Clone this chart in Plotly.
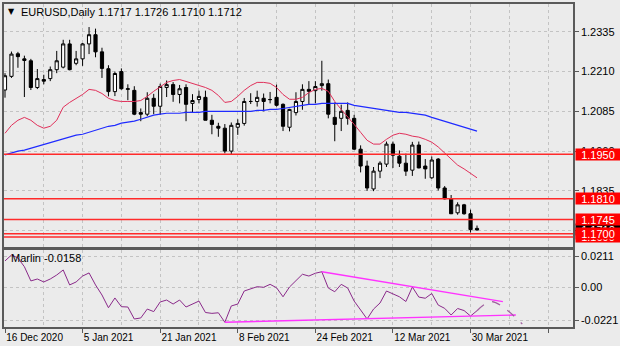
import plotly.graph_objects as go

# ---- EURUSD daily bars, 16 Dec 2020 .. 31 Mar 2021 ----
bar_dates = [
    "2020-12-16", "2020-12-17", "2020-12-18", "2020-12-21", "2020-12-22", "2020-12-23",
    "2020-12-24", "2020-12-28", "2020-12-29", "2020-12-30", "2020-12-31", "2021-01-04",
    "2021-01-05", "2021-01-06", "2021-01-07", "2021-01-08", "2021-01-11", "2021-01-12",
    "2021-01-13", "2021-01-14", "2021-01-15", "2021-01-18", "2021-01-19", "2021-01-20",
    "2021-01-21", "2021-01-22", "2021-01-25", "2021-01-26", "2021-01-27", "2021-01-28",
    "2021-01-29", "2021-02-01", "2021-02-02", "2021-02-03", "2021-02-04", "2021-02-05",
    "2021-02-08", "2021-02-09", "2021-02-10", "2021-02-11", "2021-02-12", "2021-02-15",
    "2021-02-16", "2021-02-17", "2021-02-18", "2021-02-19", "2021-02-22", "2021-02-23",
    "2021-02-24", "2021-02-25", "2021-02-26", "2021-03-01", "2021-03-02", "2021-03-03",
    "2021-03-04", "2021-03-05", "2021-03-08", "2021-03-09", "2021-03-10", "2021-03-11",
    "2021-03-12", "2021-03-15", "2021-03-16", "2021-03-17", "2021-03-18", "2021-03-19",
    "2021-03-22", "2021-03-23", "2021-03-24", "2021-03-25", "2021-03-26", "2021-03-29",
    "2021-03-30", "2021-03-31",
]
opens = [
    1.2152, 1.2195, 1.2266, 1.2250, 1.2244, 1.2160, 1.2185, 1.2188, 1.2216, 1.2224,
    1.2297, 1.2236, 1.2250, 1.2297, 1.2326, 1.2272, 1.2219, 1.2147, 1.2210, 1.2154,
    1.2151, 1.2081, 1.2076, 1.2126, 1.2101, 1.2160, 1.2169, 1.2138, 1.2160, 1.2110,
    1.2122, 1.2129, 1.2057, 1.2038, 1.2032, 1.1960, 1.2035, 1.2047, 1.2116, 1.2116,
    1.2126, 1.2122, 1.2129, 1.2107, 1.2035, 1.2081, 1.2116, 1.2154, 1.2150, 1.2166,
    1.2172, 1.2066, 1.2063, 1.2088, 1.2063, 1.1966, 1.1913, 1.1841, 1.1897, 1.1919,
    1.1982, 1.1944, 1.1922, 1.1900, 1.1979, 1.1913, 1.1876, 1.1935, 1.1844, 1.1810,
    1.1766, 1.1791, 1.1763, 1.1717,
]
highs = [
    1.2205, 1.2273, 1.2272, 1.2260, 1.2250, 1.2218, 1.2200, 1.2226, 1.2275, 1.2310,
    1.2310, 1.2275, 1.2300, 1.2350, 1.2345, 1.2285, 1.2230, 1.2210, 1.2220, 1.2170,
    1.2164, 1.2094, 1.2145, 1.2140, 1.2172, 1.2182, 1.2177, 1.2168, 1.2170, 1.2139,
    1.2150, 1.2150, 1.2074, 1.2049, 1.2045, 1.2050, 1.2060, 1.2127, 1.2142, 1.2150,
    1.2141, 1.2146, 1.2169, 1.2110, 1.2093, 1.2145, 1.2170, 1.2180, 1.2180, 1.2244,
    1.2185, 1.2113, 1.2106, 1.2113, 1.2074, 1.1978, 1.1930, 1.1910, 1.1928, 1.1990,
    1.1990, 1.1962, 1.1952, 1.1989, 1.1990, 1.1935, 1.1943, 1.1938, 1.1850, 1.1822,
    1.1799, 1.1794, 1.1776, 1.1726,
]
lows = [
    1.2128, 1.2190, 1.2222, 1.2130, 1.2152, 1.2155, 1.2170, 1.2180, 1.2205, 1.2220,
    1.2214, 1.2230, 1.2228, 1.2265, 1.2255, 1.2190, 1.2132, 1.2133, 1.2153, 1.2120,
    1.2073, 1.2054, 1.2070, 1.2076, 1.2075, 1.2130, 1.2115, 1.2110, 1.2054, 1.2080,
    1.2110, 1.2057, 1.2013, 1.2005, 1.1953, 1.1951, 1.2011, 1.2040, 1.2108, 1.2100,
    1.2085, 1.2110, 1.2100, 1.2023, 1.2022, 1.2072, 1.2090, 1.2106, 1.2110, 1.2150,
    1.2063, 1.1991, 1.2023, 1.2043, 1.1964, 1.1893, 1.1835, 1.1834, 1.1875, 1.1910,
    1.1907, 1.1910, 1.1882, 1.1882, 1.1906, 1.1873, 1.1873, 1.1836, 1.1808, 1.1762,
    1.1760, 1.1760, 1.1704, 1.1710,
]
closes = [
    1.2197, 1.2265, 1.2257, 1.2245, 1.2160, 1.2188, 1.2180, 1.2216, 1.2244, 1.2297,
    1.2216, 1.2250, 1.2297, 1.2326, 1.2272, 1.2220, 1.2147, 1.2204, 1.2156, 1.2156,
    1.2076, 1.2076, 1.2126, 1.2101, 1.2163, 1.2169, 1.2138, 1.2156, 1.2107, 1.2119,
    1.2132, 1.2057, 1.2044, 1.2032, 1.1960, 1.2041, 1.2047, 1.2116, 1.2116, 1.2129,
    1.2116, 1.2122, 1.2104, 1.2038, 1.2091, 1.2116, 1.2154, 1.2148, 1.2163, 1.2172,
    1.2076, 1.2044, 1.2085, 1.2063, 1.1966, 1.1913, 1.1844, 1.1897, 1.1922, 1.1982,
    1.1947, 1.1922, 1.1897, 1.1979, 1.1907, 1.1904, 1.1932, 1.1844, 1.1810, 1.1763,
    1.1791, 1.1763, 1.1713, 1.1712,
]

# moving averages (fast red, slow blue)
ma_fast = [
    1.2016, 1.2041, 1.2057, 1.2066, 1.2057, 1.2041, 1.2032, 1.2038, 1.2057, 1.2098,
    1.2113, 1.2126, 1.2138, 1.2154, 1.2151, 1.2141, 1.2126, 1.2119, 1.2116, 1.2116,
    1.2116, 1.2119, 1.2132, 1.2148, 1.2163, 1.2176, 1.2182, 1.2185, 1.2179, 1.2173,
    1.2166, 1.2160, 1.2151, 1.2135, 1.2113, 1.2116, 1.2132, 1.2151, 1.2166, 1.2176,
    1.2176, 1.2173, 1.2160, 1.2138, 1.2123, 1.2123, 1.2129, 1.2144, 1.2154, 1.2157,
    1.2148, 1.2116, 1.2091, 1.2069, 1.2044, 1.2019, 1.1994, 1.1982, 1.1982, 1.1997,
    1.2010, 1.2016, 1.2013, 1.2007, 1.2004, 1.1997, 1.1988, 1.1973, 1.1954, 1.1935,
    1.1916, 1.1904, 1.1891, 1.1876,
]
ma_slow = [
    1.1948, 1.1954, 1.1960, 1.1963, 1.1969, 1.1973, 1.1979, 1.1985, 1.1991, 1.1998,
    1.2004, 1.2010, 1.2013, 1.2019, 1.2026, 1.2032, 1.2038, 1.2041, 1.2048, 1.2051,
    1.2054, 1.2060, 1.2066, 1.2073, 1.2076, 1.2079, 1.2079, 1.2079, 1.2082, 1.2082,
    1.2082, 1.2085, 1.2085, 1.2085, 1.2085, 1.2085, 1.2085, 1.2085, 1.2085, 1.2088,
    1.2088, 1.2091, 1.2091, 1.2094, 1.2098, 1.2101, 1.2104, 1.2107, 1.2107, 1.2110,
    1.2110, 1.2110, 1.2110, 1.2110, 1.2104, 1.2101, 1.2098, 1.2094, 1.2091, 1.2088,
    1.2085, 1.2082, 1.2082, 1.2079, 1.2076, 1.2073, 1.2066, 1.2060, 1.2054, 1.2048,
    1.2041, 1.2035, 1.2029, 1.2023,
]

# Marlin oscillator
marlin = [
    0.0178, 0.0218, 0.0198, 0.0139, 0.0043, 0.0056, 0.0036, 0.0056, 0.0083, 0.0117,
    0.0016, 0.0036, 0.0076, 0.0097, 0.0016, -0.0052, -0.0138, -0.0072, -0.0131, -0.0133,
    -0.0214, -0.0207, -0.0147, -0.0164, -0.0099, -0.0086, -0.0113, -0.0086, -0.0133, -0.0113,
    -0.0093, -0.0170, -0.0176, -0.0172, -0.0236, -0.0126, -0.0113, -0.0025, -0.0011, 0.0004,
    0.0000, 0.0020, -0.0003, -0.0064, 0.0002, 0.0043, 0.0088, 0.0076, 0.0095, 0.0105,
    -0.0005, -0.0030, 0.0020, -0.0005, -0.0093, -0.0153, -0.0214, -0.0147, -0.0106, -0.0025,
    -0.0045, -0.0064, -0.0096, 0.0002, -0.0066, -0.0074, -0.0042, -0.0120, -0.0142, -0.0187,
    -0.0143, -0.0157, -0.0194, -0.0158,
]

# trend lines on the oscillator: (bar, value) end points
marlin_upper = [(49.0, 0.0105), (77.0, -0.0097)]
marlin_lower = [(34.0, -0.0236), (79.0, -0.0187)]
marlin_forecast = [(73.0, -0.0158), (75.3, -0.0097), (80.0, -0.0248)]

# horizontal price levels
levels = [1.1950, 1.1810, 1.1745, 1.1700, 1.1690]
last_price = 1.1712

price_ticks = [1.2335, 1.2210, 1.2085, 1.1960, 1.1835, 1.1710]
price_tick_text = ["1.2335", "1.2210", "1.2085", "1.1960", "1.1835", ""]
marlin_ticks = [0.0211, 0.0, -0.0221]
marlin_tick_text = ["0.0211", "0.00", "-0.0221"]
date_tick_bars = [0, 12, 24, 36, 48, 60, 72]
date_tick_text = ["16 Dec 2020", "5 Jan 2021", "21 Jan 2021", "8 Feb 2021",
                  "24 Feb 2021", "12 Mar 2021", "30 Mar 2021"]

BG = "#ebebeb"
GRID = "#c3c3c3"
FRAME = "#5a5a5a"
FONT = "Liberation Sans"

bars = list(range(len(bar_dates)))

fig = go.Figure()

fig.add_trace(go.Candlestick(
    x=bars, open=opens, high=highs, low=lows, close=closes,
    increasing=dict(line=dict(color="black", width=1), fillcolor="white"),
    decreasing=dict(line=dict(color="black", width=1), fillcolor="black"),
    whiskerwidth=0, xaxis="x", yaxis="y", hoverinfo="skip",
))
fig.add_trace(go.Scatter(x=bars, y=ma_fast, mode="lines",
                         line=dict(color="#e0305a", width=1), xaxis="x", yaxis="y"))
fig.add_trace(go.Scatter(x=bars, y=ma_slow, mode="lines",
                         line=dict(color="#1f2bff", width=1.2), xaxis="x", yaxis="y"))

# oscillator panel
fig.add_trace(go.Scatter(x=bars, y=marlin, mode="lines",
                         line=dict(color="#8a2a8a", width=1), xaxis="x2", yaxis="y2"))
for seg in (marlin_upper, marlin_lower):
    fig.add_trace(go.Scatter(x=[p[0] for p in seg], y=[p[1] for p in seg], mode="lines",
                             line=dict(color="#ff33ff", width=1.4), xaxis="x2", yaxis="y2"))
fig.add_trace(go.Scatter(x=[p[0] for p in marlin_forecast], y=[p[1] for p in marlin_forecast],
                         mode="lines", line=dict(color="#a0609f", width=1.2, dash="dash", shape="spline"),
                         xaxis="x2", yaxis="y2"))

shapes = []
for lv in levels:
    shapes.append(dict(type="line", xref="x domain", x0=0, x1=1, yref="y", y0=lv, y1=lv,
                       line=dict(color="#ff2a2a", width=1.5)))

annotations = []
# current price tag, then the level tags on top of it
tags = [(last_price, "black")] + [(lv, "#ff0000") for lv in [1.1690, 1.1950, 1.1810, 1.1745, 1.1700]]
for val, col in tags:
    annotations.append(dict(xref="paper", x=1, xanchor="left", xshift=2,
                            yref="y", y=val, yanchor="middle",
                            text=f"{val:.4f}", showarrow=False, bgcolor=col,
                            font=dict(family=FONT, size=11, color="white"),
                            width=44, height=11, borderpad=0, align="center"))

annotations.append(dict(xref="paper", yref="paper", x=(17 - 2) / 572, y=(327 - 10) / 325,
                        xanchor="left", yanchor="middle", showarrow=False,
                        text="EURUSD,Daily 1.1717 1.1726 1.1710 1.1712",
                        font=dict(family=FONT, size=11, color="black")))
annotations.append(dict(xref="paper", yref="paper", x=(4 - 2) / 572, y=(327 - 10) / 325,
                        xanchor="left", yanchor="middle", showarrow=False, text="▼",
                        font=dict(family="DejaVu Sans", size=8, color="black")))
annotations.append(dict(xref="paper", yref="paper", x=(7 - 2) / 572, y=(327 - 258) / 325,
                        xanchor="left", yanchor="middle", showarrow=False, text="Marlin -0.0158",
                        font=dict(family=FONT, size=11, color="black")))

xgrid = dict(showgrid=True, gridcolor=GRID, griddash="dot", gridwidth=1)
minor_x = dict(tickvals=[6, 18, 30, 42, 54, 66, 78], showgrid=True, gridcolor=GRID,
               griddash="dot", ticks="")

fig.update_layout(
    width=620, height=346,
    margin=dict(l=2, r=46, t=2, b=19),
    paper_bgcolor=BG, plot_bgcolor=BG,
    showlegend=False,
    font=dict(family=FONT, size=11, color="black"),
    shapes=shapes, annotations=annotations,
    xaxis=dict(domain=[0, 1], range=[-0.154, 87.846], anchor="y",
               tickvals=date_tick_bars + [84], showticklabels=False, ticks="",
               showline=True, mirror=True, linecolor=FRAME, linewidth=1.5,
               zeroline=False, rangeslider=dict(visible=False), minor=minor_x, **xgrid),
    yaxis=dict(domain=[0.2492, 1], range=[1.16600, 1.24225], side="right", anchor="x",
               tickvals=price_ticks, ticktext=price_tick_text,
               ticks="outside", ticklen=4, tickcolor=FRAME,
               showline=True, mirror=True, linecolor=FRAME, linewidth=1.5,
               zeroline=False, showgrid=True, gridcolor=GRID, griddash="dot"),
    xaxis2=dict(domain=[0, 1], range=[-0.154, 87.846], anchor="y2", matches="x",
                tickvals=date_tick_bars + [84], ticktext=date_tick_text + [""],
                ticks="outside", ticklen=4, tickcolor=FRAME,
                ticklabelposition="outside right", tickfont=dict(size=10),
                showline=True, mirror=True, linecolor=FRAME, linewidth=1.5,
                zeroline=False, minor=minor_x, **xgrid),
    yaxis2=dict(domain=[0, 0.2385], range=[-0.0268, 0.0252], side="right", anchor="x2",
                tickvals=marlin_ticks, ticktext=marlin_tick_text,
                ticks="outside", ticklen=4, tickcolor=FRAME,
                showline=True, mirror=True, linecolor=FRAME, linewidth=1.5,
                zeroline=False, showgrid=True, gridcolor=GRID, griddash="dot"),
)

fig.write_html("out.html")
